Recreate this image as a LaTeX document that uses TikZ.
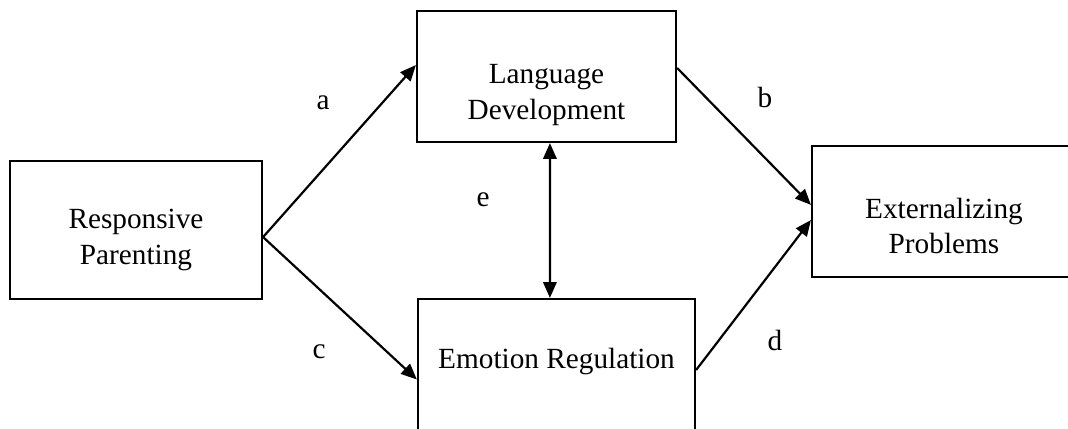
\documentclass[tikz,border=0pt]{standalone}
\usepackage{fontspec}
\setmainfont{Liberation Serif}
\usetikzlibrary{arrows.meta}
\tikzset{
  box/.style={draw=black, line width=0.9pt, inner sep=0pt},
  boxtext/.style={align=center, font=\fontsize{12}{14.4}\selectfont},
  pathlabel/.style={font=\fontsize{12}{14.4}\selectfont},
  link/.style={line width=0.9pt, -{Triangle[length=6.5pt,width=5.5pt]}}
}
\begin{document}
\begin{tikzpicture}[x=0.41pt, y=-0.41pt]
    \clip (0,0) rectangle (1068,429);
    % boxes
    \node[box, minimum width=103.3pt, minimum height=56.6pt] (parenting) at (136,230) {};
    \node[box, minimum width=106.2pt, minimum height=53.7pt] (language) at (546.5,76.5) {};
    \node[box, minimum width=108.2pt, minimum height=53.7pt] (external) at (944,211.5) {};
    \node[box, minimum width=113.6pt, minimum height=66pt] (emotion) at (556.5,379.5) {};
    \node[boxtext] (parentingtxt) at (136,240) {Responsive\\Parenting};
    \node[boxtext] (languagetxt) at (546.5,95) {Language\\Development};
    \node[boxtext] (externaltxt) at (944,226) {Externalizing\\Problems};
    \node[boxtext] (emotiontxt) at (556.5,362) {Emotion Regulation};
    % paths
    \coordinate (split) at ([yshift=-2.9pt]parenting.east);
    \draw[link] (split) -- ([yshift=4.7pt]language.west);
    \draw[link] (split) -- (emotion.west);
    \draw[link] ([yshift=3.5pt]language.east) -- ([yshift=2.7pt]external.west);
    \draw[link] ([yshift=3.9pt]emotion.east) -- ([yshift=-3.5pt]external.west);
    \draw[link, {Triangle[length=6.5pt,width=5.5pt]}-{Triangle[length=6.5pt,width=5.5pt]}]
      ([xshift=1.4pt]language.south) -- ([xshift=-2.7pt]emotion.north);
    \node[pathlabel] (la) at (323,103) {a};
    \node[pathlabel] (lb) at (765,97) {b};
    \node[pathlabel] (lc) at (319,352) {c};
    \node[pathlabel] (ld) at (775,340) {d};
    \node[pathlabel] (le) at (483,200) {e};
\end{tikzpicture}
\end{document}
